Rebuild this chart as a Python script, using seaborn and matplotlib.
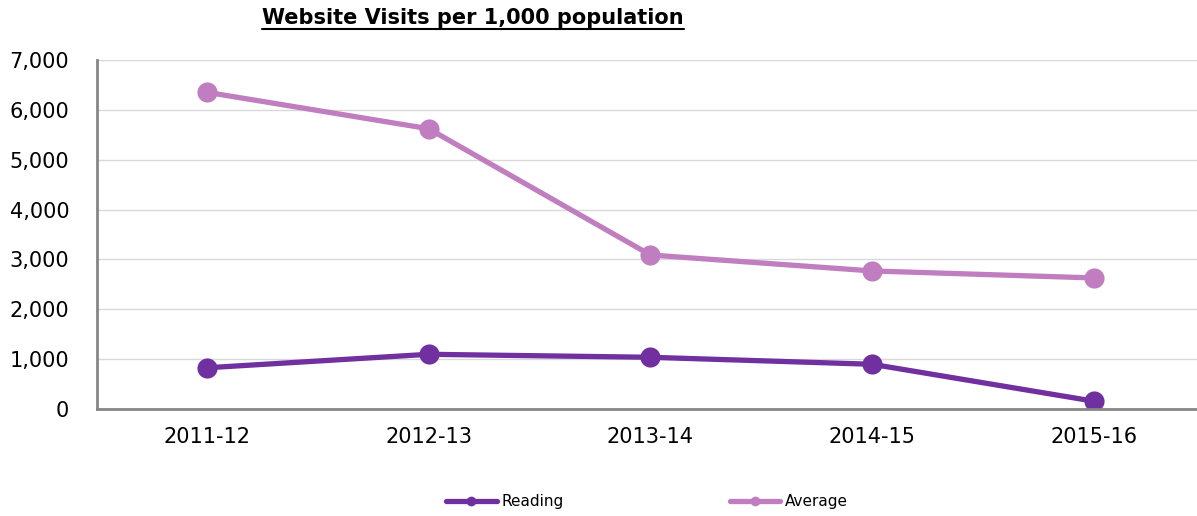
import numpy as np
import pandas as pd
import seaborn as sns
import matplotlib.pyplot as plt
from matplotlib.lines import Line2D

# values
years = ['2011-12', '2012-13', '2013-14', '2014-15', '2015-16']
reading = [830, 1100, 1040, 900, 160]
average = [6350, 5620, 3090, 2770, 2630]

df = pd.DataFrame({
    'year': years * 2,
    'visits': reading + average,
    'series': ['Reading'] * len(years) + ['Average'] * len(years),
})

sns.set_style('white')
plt.rcParams['font.family'] = ['DejaVu Sans']
plt.rcParams['text.color'] = 'black'
plt.rcParams['xtick.color'] = 'black'
plt.rcParams['ytick.color'] = 'black'

fig, ax = plt.subplots(figsize=(11.97, 5.16), dpi=100)
fig.subplots_adjust(left=0.081, right=1.0, top=0.884, bottom=0.207)

pal = {'Reading': '#7030A0', 'Average': '#C07DC0'}
sns.lineplot(data=df, x='year', y='visits', hue='series', palette=pal,
             marker='o', markersize=14.5, markeredgewidth=0, linewidth=3.8,
             ax=ax, sort=False)

# the plot area is cut at the right edge of the figure
ax.set_xlim(-0.496, 4.465)
ax.set_ylim(0, 7000)
ax.set_yticks(np.arange(0, 7001, 1000))
ax.yaxis.set_major_formatter(plt.FuncFormatter(lambda v, p: f'{int(v):,}'))
ax.tick_params(axis='both', labelsize=15, length=0, colors='black')
ax.tick_params(axis='x', pad=13)
ax.tick_params(axis='y', pad=20)
ax.set_xlabel('')
ax.set_ylabel('')
ax.grid(axis='y', color='#d9d9d9', linewidth=1)
ax.set_axisbelow(True)

for s in ['top', 'right']:
    ax.spines[s].set_visible(False)
for s in ['left', 'bottom']:
    ax.spines[s].set_color('#868686')
    ax.spines[s].set_linewidth(2)

# title with underline
t = fig.text(0.395, 0.965, 'Website Visits per 1,000 population', fontsize=15,
             fontweight='bold', ha='center', va='center', color='black')
fig.canvas.draw()
bb = t.get_window_extent().transformed(fig.transFigure.inverted())
fig.add_artist(Line2D([bb.x0, bb.x1], [bb.y0 - 0.002, bb.y0 - 0.002],
                      color='black', linewidth=1.5, transform=fig.transFigure))

h, l = ax.get_legend_handles_labels()
for hh in h:
    hh.set_markersize(7)
ax.legend(h, l, loc='center', bbox_to_anchor=(0.5, -0.265), ncol=2,
          frameon=False, fontsize=11, columnspacing=10.9, handlelength=3.3,
          handletextpad=0.3)

plt.savefig('out.png', dpi=100)
